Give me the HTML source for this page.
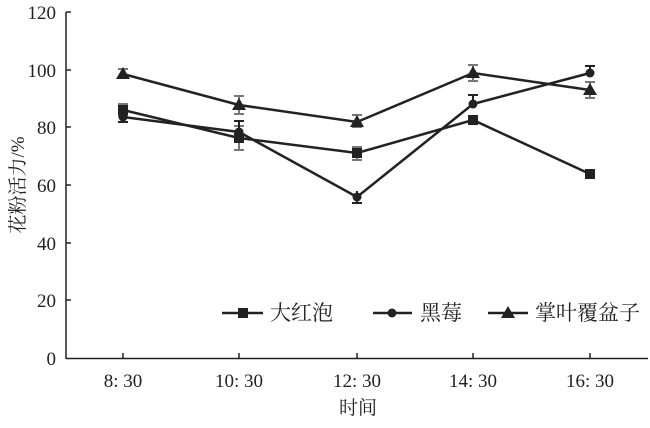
<!DOCTYPE html>
<html><head><meta charset="utf-8"><style>body{margin:0;background:#fff}</style></head><body>
<svg width="650" height="423" xmlns="http://www.w3.org/2000/svg" font-family="Liberation Serif, Noto Serif CJK SC, serif" fill="#222">
<g stroke="#222" stroke-width="1.5" fill="none">
<line x1="66" y1="12" x2="66" y2="359"/>
<line x1="66" y1="358.5" x2="648" y2="358.5"/>
<line x1="66" y1="12" x2="71" y2="12"/><line x1="66" y1="70" x2="71" y2="70"/><line x1="66" y1="127" x2="71" y2="127"/><line x1="66" y1="185" x2="71" y2="185"/><line x1="66" y1="243" x2="71" y2="243"/><line x1="66" y1="300" x2="71" y2="300"/>
<line x1="123" y1="358" x2="123" y2="353"/><line x1="239" y1="358" x2="239" y2="353"/><line x1="357" y1="358" x2="357" y2="353"/><line x1="473" y1="358" x2="473" y2="353"/><line x1="590" y1="358" x2="590" y2="353"/>
</g>
<g font-size="19" text-anchor="end">
<text x="56" y="19">120</text><text x="56" y="77">100</text><text x="56" y="134">80</text><text x="56" y="192">60</text><text x="56" y="250">40</text><text x="56" y="307">20</text><text x="56" y="365">0</text>
</g>
<g font-size="19" text-anchor="middle">
<text x="123" y="387">8: 30</text><text x="239" y="387">10: 30</text><text x="357" y="387">12: 30</text><text x="473" y="387">14: 30</text><text x="590" y="387">16: 30</text>
<text x="358" y="414">时间</text>
<text transform="translate(24,185) rotate(-90)">花粉活力/%</text>
</g>
<g stroke="#777" stroke-width="2">
<path d="M123 104v12M118 104h10M118 116h10M239 126v24M234 126h10M234 150h10M357 147v13M352 147h10M352 160h10M473 116v8M468 116h10M468 124h10"/>
<path d="M123 69v9M118 69h10M118 78h10M239 96v18M234 96h10M234 114h10M357 115v12M352 115h10M352 127h10M473 65v16M468 65h10M468 81h10M590 82v16M585 82h10M585 98h10"/>
</g>
<g stroke="#222" stroke-width="2">
<path d="M123 112v10M118 122h10M239 121v13M234 121h10M357 191v12M352 203h10M473 95v9M468 95h10M590 66v7M585 66h10"/>
</g>
<g stroke="#222" stroke-width="2.5" fill="none">
<polyline points="123,110 239,138 357,153 473,120 590,174"/>
<polyline points="123,117 239,132 357,197 473,104 590,73"/>
<polyline points="123,74 239,105 357,122 473,73 590,90"/>
</g>
<g fill="#222">
<rect x="118" y="105" width="10" height="10"/><rect x="234" y="133" width="10" height="10"/><rect x="352" y="148" width="10" height="10"/><rect x="468" y="115" width="10" height="10"/><rect x="585" y="169" width="10" height="10"/>
<circle cx="123" cy="117" r="4.5"/><circle cx="239" cy="132" r="4.5"/><circle cx="357" cy="197" r="4.5"/><circle cx="473" cy="104" r="4.5"/><circle cx="590" cy="73" r="4.5"/>
<path d="M123 67l7 12h-14zM239 98l7 12h-14zM357 115l7 12h-14zM473 66l7 12h-14zM590 83l7 12h-14z"/>
</g>
<g stroke="#222" stroke-width="2.5"><line x1="222" y1="313" x2="263" y2="313"/><line x1="373" y1="313" x2="412" y2="313"/><line x1="488" y1="313" x2="528" y2="313"/></g>
<rect x="238" y="308" width="10" height="10"/><circle cx="392" cy="313" r="4.5"/><path d="M508 306l7 12h-14z"/>
<g font-size="21"><text x="270" y="320">大红泡</text><text x="420" y="320">黑莓</text><text x="535" y="320">掌叶覆盆子</text></g>
</svg>
</body></html>
